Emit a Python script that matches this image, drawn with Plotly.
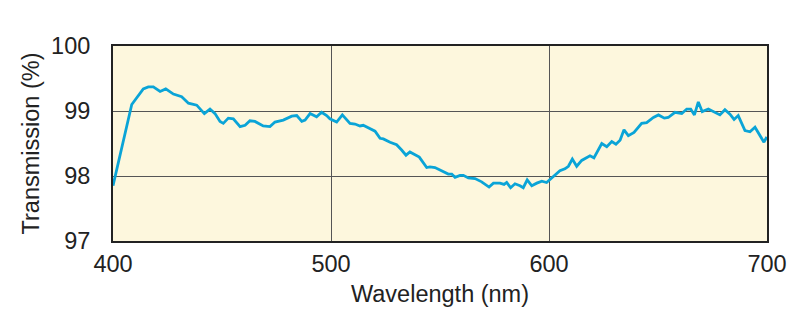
import plotly.graph_objects as go

wavelength = [400.0, 408.6, 413.9, 416.2, 418.5, 421.6, 424.2, 427.7, 431.5, 434.6, 438.4, 441.9,
              444.5, 446.8, 449.1, 450.6, 452.9, 455.2, 458.3, 460.6, 462.8, 465.1, 468.9, 472.0,
              474.3, 478.1, 482.0, 484.3, 486.6, 488.1, 490.4, 493.4, 495.7, 498.0, 499.5, 502.6,
              505.2, 508.7, 511.0, 513.3, 514.8, 517.9, 520.2, 522.5, 524.0, 527.1, 530.1, 532.4,
              534.4, 536.2, 538.5, 540.5, 543.9, 545.4, 547.7, 550.8, 553.8, 555.4, 556.9, 559.2,
              560.7, 563.0, 566.1, 569.1, 572.5, 574.5, 577.5, 579.4, 580.6, 582.4, 584.4, 586.7,
              588.2, 590.0, 592.1, 594.4, 596.7, 598.9, 601.2, 605.0, 607.3, 608.9, 610.7, 612.7,
              615.0, 616.8, 618.8, 620.6, 624.2, 626.5, 628.8, 630.7, 632.6, 634.4, 636.4, 639.0,
              642.5, 644.8, 647.9, 650.2, 652.9, 654.7, 657.8, 660.9, 663.2, 665.0, 666.7, 668.5,
              670.3, 673.1, 675.4, 678.4, 680.7, 683.0, 684.9, 686.8, 689.9, 692.2, 694.5, 698.6,
              699.9]
transmission = [97.85, 99.10, 99.34, 99.37, 99.37, 99.30, 99.34, 99.26, 99.22, 99.12, 99.09, 98.96,
                99.03, 98.96, 98.84, 98.81, 98.89, 98.88, 98.76, 98.78, 98.85, 98.84, 98.77, 98.76,
                98.83, 98.86, 98.92, 98.93, 98.84, 98.86, 98.96, 98.91, 98.98, 98.93, 98.88, 98.83,
                98.94, 98.81, 98.80, 98.77, 98.78, 98.73, 98.69, 98.58, 98.57, 98.52, 98.48, 98.40,
                98.32, 98.37, 98.32, 98.29, 98.13, 98.14, 98.13, 98.08, 98.03, 98.03, 97.98, 98.01,
                98.01, 97.97, 97.96, 97.91, 97.83, 97.89, 97.89, 97.87, 97.90, 97.82, 97.88, 97.85,
                97.82, 97.94, 97.85, 97.89, 97.92, 97.90, 97.97, 98.08, 98.11, 98.15, 98.26, 98.15,
                98.24, 98.27, 98.31, 98.28, 98.50, 98.45, 98.53, 98.49, 98.55, 98.71, 98.62, 98.67,
                98.81, 98.82, 98.90, 98.94, 98.89, 98.90, 98.98, 98.96, 99.03, 99.03, 98.94, 99.14,
                98.99, 99.03, 98.99, 98.94, 99.02, 98.95, 98.87, 98.93, 98.70, 98.68, 98.75, 98.52,
                98.60]

x_ticks = [400, 500, 600, 700]
y_ticks = [97, 98, 99, 100]

FONT = "Liberation Sans, Arial, sans-serif"

fig = go.Figure()
fig.add_trace(go.Scatter(
    x=wavelength, y=transmission, mode="lines",
    line=dict(color="#0aa4d7", width=2.8),
    hoverinfo="skip", showlegend=False,
))

fig.update_layout(
    width=800, height=324,
    margin=dict(l=113, r=33, t=46, b=83),
    paper_bgcolor="white",
    plot_bgcolor="#fdf7dd",
    font=dict(family=FONT, size=23.5, color="#222"),
    showlegend=False,
)
fig.update_xaxes(
    range=[400, 700], tickvals=x_ticks, ticks="", ticklabelstandoff=1,
    showgrid=True, gridcolor="#555", gridwidth=1,
    showline=True, linecolor="#222", linewidth=2, mirror=True,
    zeroline=False,
    title=dict(text="Wavelength (nm)", standoff=9, font=dict(size=23.5)),
)
fig.update_yaxes(
    range=[97, 100], tickvals=y_ticks, ticks="", ticklabelstandoff=16,
    showgrid=True, gridcolor="#555", gridwidth=1,
    showline=True, linecolor="#222", linewidth=2, mirror=True,
    zeroline=False,
    title=dict(text="Transmission (%)", standoff=5, font=dict(size=23.5)),
)

fig.write_html("out.html")
